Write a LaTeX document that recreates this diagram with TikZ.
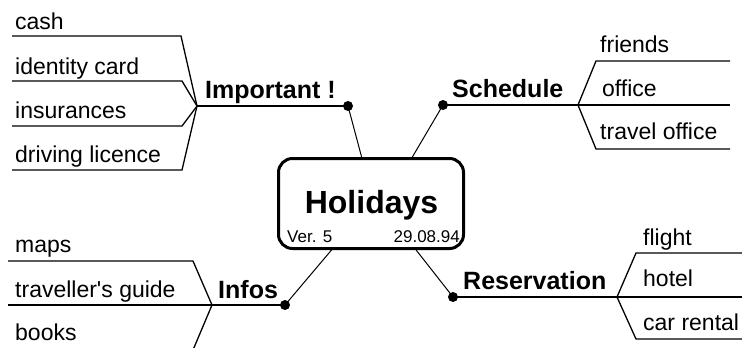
\documentclass[tikz,border=0pt]{standalone}
\usepackage{fontspec}
\setmainfont{Liberation Sans}[Ligatures=TeXOff]
\usetikzlibrary{calc}
\begin{document}
\begin{tikzpicture}[x=1pt,y=-1pt,
  leaf/.style={anchor=base west,inner sep=0pt,font=\fontsize{23}{23}\selectfont},
  topic/.style={anchor=base west,inner sep=0pt,font=\fontsize{25}{25}\selectfont\bfseries},
  small/.style={inner sep=0pt,font=\fontsize{17}{17}\selectfont},
  wire/.style={line width=1.3pt},
  stem/.style={line width=1pt},
  dotc/.style={circle,fill=black,inner sep=0pt,minimum size=10pt}]
\useasboundingbox (0,0) rectangle (742,348);

% central box
\node[draw,line width=3pt,rounded corners=14pt,minimum width=185pt,minimum height=90pt,inner sep=0pt] (hol) at (371,203.5) {};
\node[anchor=base,inner sep=0pt,font=\fontsize{32}{32}\selectfont\bfseries] (title) at (371.5,213) {Holidays};
\node[small,anchor=base west] (ver) at (287,242) {Ver. 5};
\node[small,anchor=base east] (date) at (460,242) {29.08.94};

% dots
\node[dotc] (d1) at (348,106) {};
\node[dotc] (d2) at (443,105) {};
\node[dotc] (d3) at (285,305) {};
\node[dotc] (d4) at (453,297) {};

% stems to box
\draw[stem] (d1.center) -- ($(hol.north west)!0.45!(hol.north east)$);
\draw[stem] (d2.center) -- ($(hol.north west)!0.72!(hol.north east)$);
\draw[stem] (d3.center) -- ($(hol.south west)!0.29!(hol.south east)$);
\draw[stem] (d4.center) -- ($(hol.south west)!0.74!(hol.south east)$);

% junctions
\coordinate (j1) at (197,106);
\coordinate (j2) at (578,105);
\coordinate (j3) at (212,305);
\coordinate (j4) at (617,297);

\draw[wire] (j1) -- (d1.center);
\draw[wire] (j2) -- (d2.center);
\draw[wire] (j3) -- (d3.center);
\draw[wire] (j4) -- (d4.center);

% topics
\node[topic] (imp) at (205,98) {Important !};
\node[topic] (sch) at (452,97) {Schedule};
\node[topic] (inf) at (218,298) {Infos};
\node[topic] (res) at (463,289) {Reservation};

% Important leaves
\node[leaf] (cash) at (15,29) {cash};
\node[leaf] (idc) at (15,74) {identity card};
\node[leaf] (ins) at (15,118) {insurances};
\node[leaf] (drv) at (15,162) {driving licence};
\coordinate (cashA) at (12,36);  \coordinate (cashK) at (181,36);
\coordinate (idcA) at (12,81);   \coordinate (idcK) at (182,81);
\coordinate (insA) at (12,126);  \coordinate (insK) at (182,126);
\coordinate (drvA) at (12,170);  \coordinate (drvK) at (182,170);
\draw[wire] (cashA) -- (cashK) -- (j1);
\draw[wire] (idcA) -- (idcK) -- (j1);
\draw[wire] (insA) -- (insK) -- (j1);
\draw[wire] (drvA) -- (drvK) -- (j1);

% Schedule leaves
\node[leaf] (fri) at (600,52) {friends};
\node[leaf] (off) at (602,96) {office};
\node[leaf] (tro) at (600,139) {travel office};
\coordinate (friK) at (596,61);  \coordinate (friE) at (730,61);
\coordinate (offE) at (730,105);
\coordinate (troK) at (596,149); \coordinate (troE) at (730,149);
\draw[wire] (j2) -- (friK) -- (friE);
\draw[wire] (j2) -- (offE);
\draw[wire] (j2) -- (troK) -- (troE);

% Infos leaves
\node[leaf] (maps) at (15,252) {maps};
\node[leaf] (trg) at (15,297) {traveller's guide};
\node[leaf] (bks) at (15,340) {books};
\coordinate (mapsA) at (8,261); \coordinate (mapsK) at (193,261);
\coordinate (trgA) at (8,305);
\coordinate (bksK) at (193,350);
\draw[wire] (mapsA) -- (mapsK) -- (j3);
\draw[wire] (trgA) -- (j3);
\draw[wire] (j3) -- (bksK);

% Reservation leaves
\node[leaf] (fli) at (643,245) {flight};
\node[leaf] (hot) at (643,286) {hotel};
\node[leaf] (car) at (643,330) {car rental};
\coordinate (fliK) at (636,253); \coordinate (fliE) at (742,253);
\coordinate (hotE) at (742,297);
\coordinate (carK) at (636,339); \coordinate (carE) at (742,339);
\draw[wire] (j4) -- (fliK) -- (fliE);
\draw[wire] (j4) -- (hotE);
\draw[wire] (j4) -- (carK) -- (carE);
\end{tikzpicture}
\end{document}
